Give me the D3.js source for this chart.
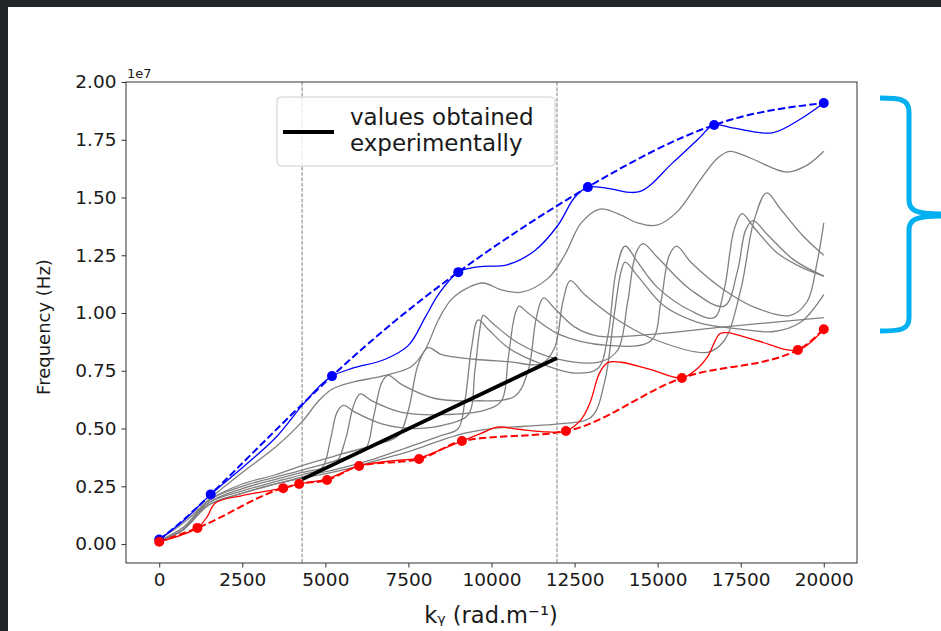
<!DOCTYPE html>
<html><head><meta charset="utf-8">
<script src="https://cdn.jsdelivr.net/npm/d3@7"></script>
<style>body{margin:0;background:#fff}svg{display:block;font-family:"DejaVu Sans",sans-serif}</style>
</head><body><svg id="c" width="941" height="631"></svg>
<script>
// ---- data (k in rad/m, f in units of 1e7 Hz) ----
const xTicks = [0,2500,5000,7500,10000,12500,15000,17500,20000];
const yTicks = [0,0.25,0.5,0.75,1.0,1.25,1.5,1.75,2.0];
const vLines = [4300, 11970];
const expLine = [[4300,0.28],[11970,0.805]];
const blueDots = [[0,0.02],[1550,0.215],[5200,0.727],[9000,1.177],[12900,1.545],[16700,1.814],[20000,1.909]];
const blueSolid = [[0,0.02],[800,0.11],[1550,0.215],[2500,0.33],[3500,0.46],[4300,0.60],[4800,0.68],[5200,0.727],[5800,0.76],[6800,0.80],[7500,0.86],[8000,0.98],[8400,1.08],[9000,1.177],[9600,1.20],[10500,1.21],[11300,1.27],[12000,1.38],[12500,1.50],[12900,1.545],[13500,1.54],[14450,1.525],[15450,1.65],[16200,1.75],[16700,1.814],[17300,1.80],[18450,1.78],[19300,1.84],[20000,1.909]];
const redDots = [[0,0.01],[1150,0.07],[3730,0.242],[4210,0.26],[5050,0.277],[6015,0.338],[7820,0.368],[9110,0.446],[12240,0.489],[15730,0.719],[19220,0.84],[20000,0.93]];
const redSolid = [[0,0.01],[1150,0.07],[1450,0.12],[1680,0.177],[2500,0.21],[3730,0.242],[4210,0.26],[5050,0.282],[6015,0.338],[7000,0.36],[7820,0.372],[8500,0.41],[9110,0.446],[9700,0.48],[10170,0.506],[10800,0.497],[11500,0.487],[12240,0.489],[12700,0.54],[12960,0.61],[13250,0.74],[13500,0.785],[13900,0.787],[14800,0.755],[15730,0.719],[16200,0.76],[16500,0.81],[16870,0.91],[17100,0.915],[18000,0.88],[19220,0.84],[20000,0.93]];
const gray1 = [[0,0.02],[800,0.10],[1550,0.20],[2500,0.31],[3500,0.42],[4300,0.53],[4800,0.62],[5200,0.67],[5800,0.70],[6800,0.73],[7600,0.77],[8000,0.84],[8400,0.97],[8800,1.06],[9300,1.11],[9750,1.13],[10300,1.10],[10900,1.09],[11700,1.15],[12200,1.25],[12700,1.39],[13260,1.45],[13800,1.43],[14400,1.39],[14980,1.38],[15600,1.44],[16300,1.58],[16800,1.67],[17170,1.70],[17800,1.67],[18890,1.61],[19500,1.64],[20000,1.70]];
const gray2 = [[0,0.015],[700,0.06],[1500,0.17],[2500,0.22],[3500,0.26],[4300,0.29],[5500,0.33],[6500,0.37],[7500,0.42],[8500,0.47],[9000,0.50],[9200,0.62],[9400,0.85],[9600,0.97],[9900,0.93],[10500,0.85],[11500,0.78],[12500,0.74],[13200,0.76],[13500,0.90],[13750,1.18],[14020,1.29],[14400,1.22],[15000,1.11],[16000,1.01],[16700,0.98],[17000,1.10],[17300,1.36],[17540,1.43],[17900,1.37],[18600,1.26],[19300,1.20],[20000,1.16]];
const gray3 = [[0,0.015],[700,0.06],[1500,0.18],[2500,0.23],[3500,0.27],[4300,0.30],[4900,0.33],[5150,0.45],[5350,0.57],[5540,0.60],[5900,0.57],[6700,0.52],[7700,0.50],[8700,0.52],[9300,0.56],[9500,0.75],[9650,0.93],[9750,0.99],[10000,0.96],[10800,0.87],[12000,0.80],[13300,0.79],[13800,0.84],[14100,1.05],[14350,1.26],[14560,1.30],[15000,1.24],[16000,1.10],[17000,1.03],[17400,1.18],[17650,1.36],[17870,1.40],[18300,1.34],[19100,1.23],[20000,1.16]];
const gray4 = [[0,0.015],[700,0.06],[1500,0.18],[2500,0.24],[3500,0.28],[4300,0.31],[5300,0.35],[5600,0.45],[5850,0.60],[6050,0.65],[6400,0.62],[7300,0.57],[8500,0.56],[9800,0.58],[10300,0.62],[10500,0.80],[10700,0.99],[10830,1.03],[11100,1.00],[12000,0.91],[13500,0.86],[14800,0.88],[15100,1.05],[15350,1.25],[15570,1.29],[16000,1.22],[17000,1.10],[18000,1.02],[19000,0.99],[19500,1.05],[19800,1.22],[20000,1.39]];
const gray5 = [[0,0.015],[700,0.06],[1500,0.19],[2500,0.25],[3500,0.29],[4300,0.32],[5500,0.37],[6200,0.41],[6450,0.55],[6700,0.70],[6890,0.73],[7300,0.69],[8300,0.63],[9500,0.62],[10700,0.64],[11100,0.75],[11350,0.98],[11560,1.065],[11900,1.02],[12500,0.94],[13200,0.90],[15000,0.91],[17000,0.94],[20000,0.98]];
const gray6 = [[0,0.015],[700,0.07],[1500,0.19],[2500,0.26],[3500,0.30],[4300,0.34],[5500,0.39],[6500,0.43],[7200,0.47],[7500,0.58],[7800,0.78],[8090,0.85],[8500,0.82],[9500,0.80],[10500,0.79],[11500,0.78],[11900,0.85],[12150,1.05],[12370,1.14],[12800,1.08],[13800,0.97],[15000,0.88],[16500,0.83],[17000,0.88],[17500,1.10],[17900,1.40],[18280,1.52],[18700,1.45],[19400,1.33],[20000,1.25]];
const gray7 = [[0,0.015],[700,0.06],[1500,0.17],[2500,0.22],[3500,0.26],[4300,0.285],[5500,0.32],[6500,0.36],[7500,0.40],[8500,0.45],[9200,0.48],[10000,0.50],[11000,0.51],[12000,0.52],[13000,0.55],[13400,0.70],[13700,1.0],[13900,1.18],[14020,1.22],[14400,1.16],[15200,1.03],[16200,0.96],[17500,0.93],[18500,0.92],[19300,0.96],[20000,1.08]];
const grayCurves = [gray1,gray2,gray3,gray4,gray5,gray6,gray7];
const legendLines = ["values obtained","experimentally"];

// ---- drawing ----
const svg = d3.select("#c");
const L=126,R=857,T=82,B=563;
const x = d3.scaleLinear().domain([-1000,21000]).range([L,R]);
const y = d3.scaleLinear().domain([-0.082,2.0]).range([B,T]);

svg.append("rect").attr("width",941).attr("height",631).attr("fill","#fff");
svg.append("rect").attr("x",0).attr("y",0).attr("width",941).attr("height",7).attr("fill","#212529");
svg.append("rect").attr("x",0).attr("y",0).attr("width",8).attr("height",631).attr("fill","#212529");

svg.append("clipPath").attr("id","pc").append("rect").attr("x",L).attr("y",T).attr("width",R-L).attr("height",B-T);
const g = svg.append("g").attr("clip-path","url(#pc)");

vLines.forEach(v=>{
  g.append("line").attr("x1",x(v)).attr("x2",x(v)).attr("y1",T).attr("y2",B)
   .attr("stroke","#7f7f7f").attr("stroke-width",1).attr("stroke-dasharray","3.7,1.6");
});

const smooth = d3.line().x(d=>x(d[0])).y(d=>y(d[1])).curve(d3.curveCatmullRom.alpha(0.5));
const mono = d3.line().x(d=>x(d[0])).y(d=>y(d[1])).curve(d3.curveMonotoneX);
const nat = d3.line().x(d=>x(d[0])).y(d=>y(d[1])).curve(d3.curveNatural);

grayCurves.forEach(c=>{
  g.append("path").attr("d",smooth(c)).attr("fill","none").attr("stroke","#808080").attr("stroke-width",1.3);
});

g.append("path").attr("d",smooth(blueSolid)).attr("fill","none").attr("stroke","#0000ff").attr("stroke-width",1.3);
g.append("path").attr("d",nat(blueDots)).attr("fill","none").attr("stroke","#0000ff").attr("stroke-width",2).attr("stroke-dasharray","7.4,3.2");
g.append("path").attr("d",smooth(redSolid)).attr("fill","none").attr("stroke","#ff0000").attr("stroke-width",1.3);
g.append("path").attr("d",mono(redDots)).attr("fill","none").attr("stroke","#ff0000").attr("stroke-width",2).attr("stroke-dasharray","7.4,3.2");

g.selectAll("circle.b").data(blueDots).enter().append("circle").attr("cx",d=>x(d[0])).attr("cy",d=>y(d[1])).attr("r",5).attr("fill","#0000ff");
g.selectAll("circle.r").data(redDots).enter().append("circle").attr("cx",d=>x(d[0])).attr("cy",d=>y(d[1])).attr("r",5).attr("fill","#ff0000");

g.append("path").attr("d",d3.line().x(d=>x(d[0])).y(d=>y(d[1]))(expLine)).attr("stroke","#000").attr("stroke-width",3.8).attr("fill","none");

svg.append("rect").attr("x",L).attr("y",T).attr("width",R-L).attr("height",B-T).attr("fill","none").attr("stroke","#333").attr("stroke-width",1);

const xa = svg.append("g").attr("transform",`translate(0,${B})`)
  .call(d3.axisBottom(x).tickValues(xTicks).tickFormat(d3.format("d")).tickSize(4.5).tickPadding(5));
const ya = svg.append("g").attr("transform",`translate(${L},0)`)
  .call(d3.axisLeft(y).tickValues(yTicks).tickFormat(d3.format(".2f")).tickSize(4.5).tickPadding(5));
[xa,ya].forEach(a=>{
  a.select(".domain").remove();
  a.selectAll("line").attr("stroke","#333");
  a.selectAll("text").attr("font-size",18.5).attr("fill","#1a1a1a").attr("font-family","DejaVu Sans");
});

svg.append("text").attr("x",L+1).attr("y",T-4).attr("font-size",13).attr("fill","#1a1a1a").text("1e7");

svg.append("text").attr("transform","translate(50,327) rotate(-90)").attr("text-anchor","middle")
  .attr("font-size",18).attr("fill","#1a1a1a").text("Frequency (Hz)");
svg.append("text").attr("x",491).attr("y",623).attr("text-anchor","middle")
  .attr("font-size",22.5).attr("fill","#1a1a1a").text("k\u1D67 (rad.m\u207B\u00B9)");

const lg = svg.append("g");
lg.append("rect").attr("x",277).attr("y",97).attr("width",278).attr("height",69).attr("rx",4)
  .attr("fill","#fff").attr("fill-opacity",0.8).attr("stroke","#cccccc").attr("stroke-width",1);
lg.append("line").attr("x1",283).attr("x2",334).attr("y1",132).attr("y2",132).attr("stroke","#000").attr("stroke-width",3.8);
legendLines.forEach((t,i)=>{
  lg.append("text").attr("x",350).attr("y",125+i*26).attr("font-size",23).attr("fill","#1a1a1a").text(t);
});

svg.append("path").attr("d","M880,98 C900,98 909,99 909,112 L909,200 C909,210 915,214 941,214 M941,216 C915,216 909,220 909,230 L909,318 C909,330 900,331 880,331")
  .attr("fill","none").attr("stroke","#00b0f0").attr("stroke-width",5);
</script></body></html>
